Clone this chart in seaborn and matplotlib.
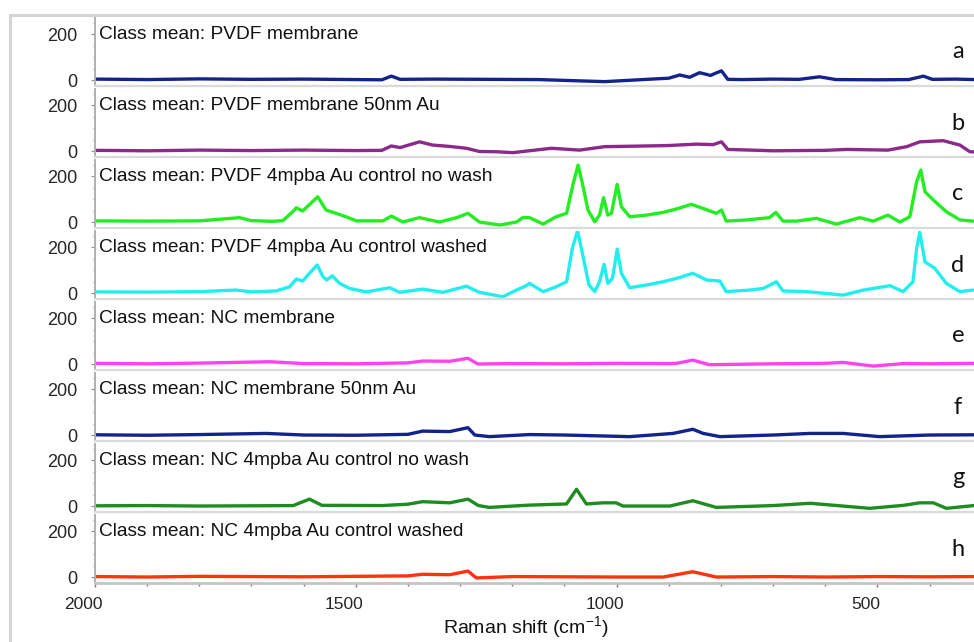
import numpy as np
import pandas as pd
import matplotlib
matplotlib.use("Agg")
import matplotlib.pyplot as plt
from matplotlib.lines import Line2D
from matplotlib.ticker import MultipleLocator
from matplotlib.transforms import ScaledTranslation
import seaborn as sns

# ---- spectra (Raman shift in cm-1, intensity) ----
a_x = [2000, 1900, 1800, 1700, 1600, 1500, 1450, 1432, 1415, 1350, 1250, 1150, 1023, 950, 900, 879, 860,
       841, 820, 810, 799, 787, 760, 700, 650, 611, 580, 500, 440, 412, 395, 350, 315]
a_y = [4, 2, 5, 3, 4, 2, 1, 17, 3, 4, 3, 2, -7, 2, 8, 22, 12,
       32, 20, 30, 40, 3, 2, 4, 3, 14, 2, 1, 2, 17, 3, 4, 2]

b_x = [2000, 1900, 1800, 1700, 1600, 1500, 1450, 1432, 1415, 1378, 1353, 1320, 1288, 1263, 1231, 1199, 1125,
       1071, 1023, 943, 900, 847, 815, 799, 787, 700, 600, 559, 480, 444, 419, 374, 342, 323, 315]
b_y = [3, 1, 4, 2, 4, 2, 3, 22, 15, 40, 26, 20, 12, -2, -3, -7, 12,
       4, 19, 22, 24, 30, 28, 40, 7, 1, 3, 7, 4, 19, 40, 45, 26, -3, -4]

c_x = [2000, 1900, 1800, 1723, 1700, 1660, 1640, 1621, 1614, 1602, 1573, 1557, 1538, 1519, 1499, 1448, 1432,
       1410, 1378, 1340, 1307, 1285, 1263, 1224, 1192, 1180, 1167, 1141, 1116, 1096, 1084, 1074, 1065, 1055,
       1042, 1033, 1025, 1017, 1010, 999, 991, 975, 943, 911, 885, 857, 834, 809, 799, 790, 751, 707, 695,
       681, 655, 617, 579, 534, 508, 480, 457, 438, 425, 417, 409, 393, 368, 342, 317]
c_y = [5, 4, 5, 19, 6, 3, 6, 45, 62, 48, 110, 52, 38, 23, 5, 5, 26,
       0, 19, 0, 19, 38, 0, -13, 0, 19, 19, -9, 23, 38, 161, 248, 161, 52,
       1, 30, 106, 30, 38, 164, 67, 23, 30, 42, 57, 77, 59, 38, 52, 4, 9, 19, 42,
       4, 4, 16, -9, 19, 4, 30, 0, 23, 175, 226, 132, 96, 45, 9, 4]

d_x = [2000, 1900, 1800, 1730, 1700, 1653, 1627, 1614, 1602, 1589, 1574, 1563, 1556, 1545, 1531, 1512, 1480,
       1435, 1416, 1372, 1333, 1288, 1263, 1218, 1192, 1173, 1167, 1141, 1116, 1096, 1085, 1075, 1065, 1053,
       1042, 1033, 1024, 1017, 1008, 999, 991, 975, 943, 911, 880, 854, 828, 802, 790, 745, 719, 694, 681,
       636, 566, 527, 476, 451, 432, 425, 419, 409, 390, 368, 342, 317]
d_y = [5, 4, 6, 13, 5, 9, 27, 61, 52, 86, 122, 71, 57, 75, 42, 20, 5,
       23, 3, 17, 3, 30, 3, -16, 13, 32, 42, 6, 27, 49, 194, 272, 165, 35,
       6, 49, 125, 42, 64, 191, 86, 23, 35, 49, 67, 86, 57, 52, 6, 13, 20, 49, 9,
       6, -9, 13, 32, 6, 49, 194, 264, 136, 107, 42, 6, 13]

e_x = [2000, 1900, 1800, 1665, 1600, 1500, 1400, 1372, 1320, 1285, 1266, 1200, 1100, 1000, 900, 885, 854,
       822, 700, 600, 566, 508, 450, 400, 315]
e_y = [3, 1, 4, 10, 2, 1, 5, 13, 12, 25, 0, 2, 1, 3, 2, 3, 17,
       -3, 1, 3, 7, -9, 2, 1, 3]

f_x = [2000, 1900, 1800, 1672, 1600, 1500, 1400, 1372, 1320, 1285, 1272, 1244, 1167, 1100, 975, 892, 854,
       834, 802, 700, 629, 566, 496, 400, 315]
f_y = [1, -1, 2, 7, 0, -1, 3, 17, 15, 32, 0, -7, 2, 0, -7, 7, 25,
       7, -7, 0, 7, 7, -7, 0, 1]

g_x = [2000, 1900, 1800, 1700, 1620, 1589, 1565, 1450, 1400, 1372, 1320, 1285, 1265, 1244, 1167, 1096, 1077,
       1058, 1026, 1001, 988, 898, 854, 809, 700, 629, 515, 450, 419, 393, 368, 315]
g_y = [1, 2, 0, 1, 2, 30, 3, 2, 8, 19, 14, 30, 2, -6, 4, 9, 73,
       9, 14, 14, 0, 0, 23, -6, 2, 12, -10, 3, 14, 14, -10, 2]

h_x = [2000, 1900, 1800, 1700, 1600, 1500, 1400, 1372, 1320, 1285, 1269, 1200, 1100, 1000, 911, 854, 809,
       700, 600, 496, 400, 315]
h_y = [2, 0, 3, 2, 1, 3, 5, 12, 10, 26, -4, 2, 1, 0, 0, 23, 0,
       2, 0, 2, 1, 2]

titles = [
    "Class mean: PVDF membrane",
    "Class mean: PVDF membrane 50nm Au",
    "Class mean: PVDF 4mpba Au control no wash",
    "Class mean: PVDF 4mpba Au control washed",
    "Class mean: NC membrane",
    "Class mean: NC membrane 50nm Au",
    "Class mean: NC 4mpba Au control no wash",
    "Class mean: NC 4mpba Au control washed",
]
letters = ["a", "b", "c", "d", "e", "f", "g", "h"]
colors = ["#13238c", "#8c2a8c", "#22ee22", "#22eeee", "#ff44ee", "#13238c", "#1f8c1f", "#ff3310"]
spectra = [(a_x, a_y), (b_x, b_y), (c_x, c_y), (d_x, d_y),
           (e_x, e_y), (f_x, f_y), (g_x, g_y), (h_x, h_y)]
x_ticks = [2000, 1500, 1000, 500]

sns.set_theme(style="white")
plt.rcParams["font.family"] = ["Liberation Sans", "DejaVu Sans"]
plt.rcParams["mathtext.fontset"] = "custom"
plt.rcParams["mathtext.rm"] = "Liberation Sans"

W, H = 974, 642
fig = plt.figure(figsize=(W / 100, H / 100), dpi=100)

# outer chart frame (left and top edges)
frame_col = "#d4d4d4"
fig.add_artist(Line2D([10 / W, 10 / W], [0, 1 - 15 / H], color=frame_col, lw=2.2, transform=fig.transFigure))
fig.add_artist(Line2D([10 / W, 1], [1 - 15 / H, 1 - 15 / H], color=frame_col, lw=2.2, transform=fig.transFigure))

left_px, pitch, height_px, top0 = 95, 71, 68, 18
for i, ((xs, ys), title, letter, col) in enumerate(zip(spectra, titles, letters, colors)):
    top = top0 + pitch * i
    ax = fig.add_axes([left_px / W, 1 - (top + height_px) / H, 1 - left_px / W, height_px / H])
    df = pd.DataFrame({"shift": xs, "intensity": ys})
    sns.lineplot(data=df, x="shift", y="intensity", ax=ax, color=col, lw=2.4,
                 estimator=None, sort=False)
    ax.set_xlim(2000, 315)
    ax.set_ylim(-26, 270)
    ax.set_yticks([0, 200])
    ax.yaxis.set_minor_locator(MultipleLocator(50))
    ax.tick_params(axis="y", which="major", length=3, width=0.8, color="#8c8c8c",
                   labelsize=13, pad=10, left=True)
    ax.tick_params(axis="y", which="minor", length=1.5, width=0.8, color="#a0a0a0", left=True)
    ax.set_xlabel("")
    ax.set_ylabel("")
    for s in ("top", "right"):
        ax.spines[s].set_visible(False)
    ax.spines["left"].set_color("#b0b0b0")
    ax.spines["left"].set_linewidth(1.4)
    ax.spines["bottom"].set_color("#dadada")
    ax.spines["bottom"].set_linewidth(1.6)
    ax.text(4 / (W - left_px), 200, title, transform=ax.get_yaxis_transform(),
            ha="left", va="center", fontsize=13.8, color="#111111")
    fig.text(958 / W, 1 - (top + height_px / 2) / H, letter, ha="center", va="center",
             fontsize=17, family=["Lato", "DejaVu Sans"], color="#111111")
    if i < 7:
        ax.set_xticks([])
    else:
        ax.set_xticks(x_ticks)
        ax.xaxis.set_minor_locator(MultipleLocator(100))
        ax.tick_params(axis="x", which="major", length=3, width=1, color="#7a7a7a",
                       labelsize=12.5, pad=7, bottom=True)
        ax.tick_params(axis="x", which="minor", length=2, width=1, color="#7a7a7a", bottom=True)
        ax.spines["bottom"].set_color("#c4c4c4")
        ax.spines["bottom"].set_linewidth(2)
        # tick labels sit slightly left of their tick marks
        shift = ScaledTranslation(-12 / 100, 0, fig.dpi_scale_trans)
        for lab in ax.get_xticklabels():
            lab.set_transform(lab.get_transform() + shift)

fig.text(526 / W, 1 - 628 / H, r"Raman shift (cm$^{\mathregular{-1}}$)",
         ha="center", va="center", fontsize=14, color="#111111")

fig.savefig("out.png", dpi=100)
